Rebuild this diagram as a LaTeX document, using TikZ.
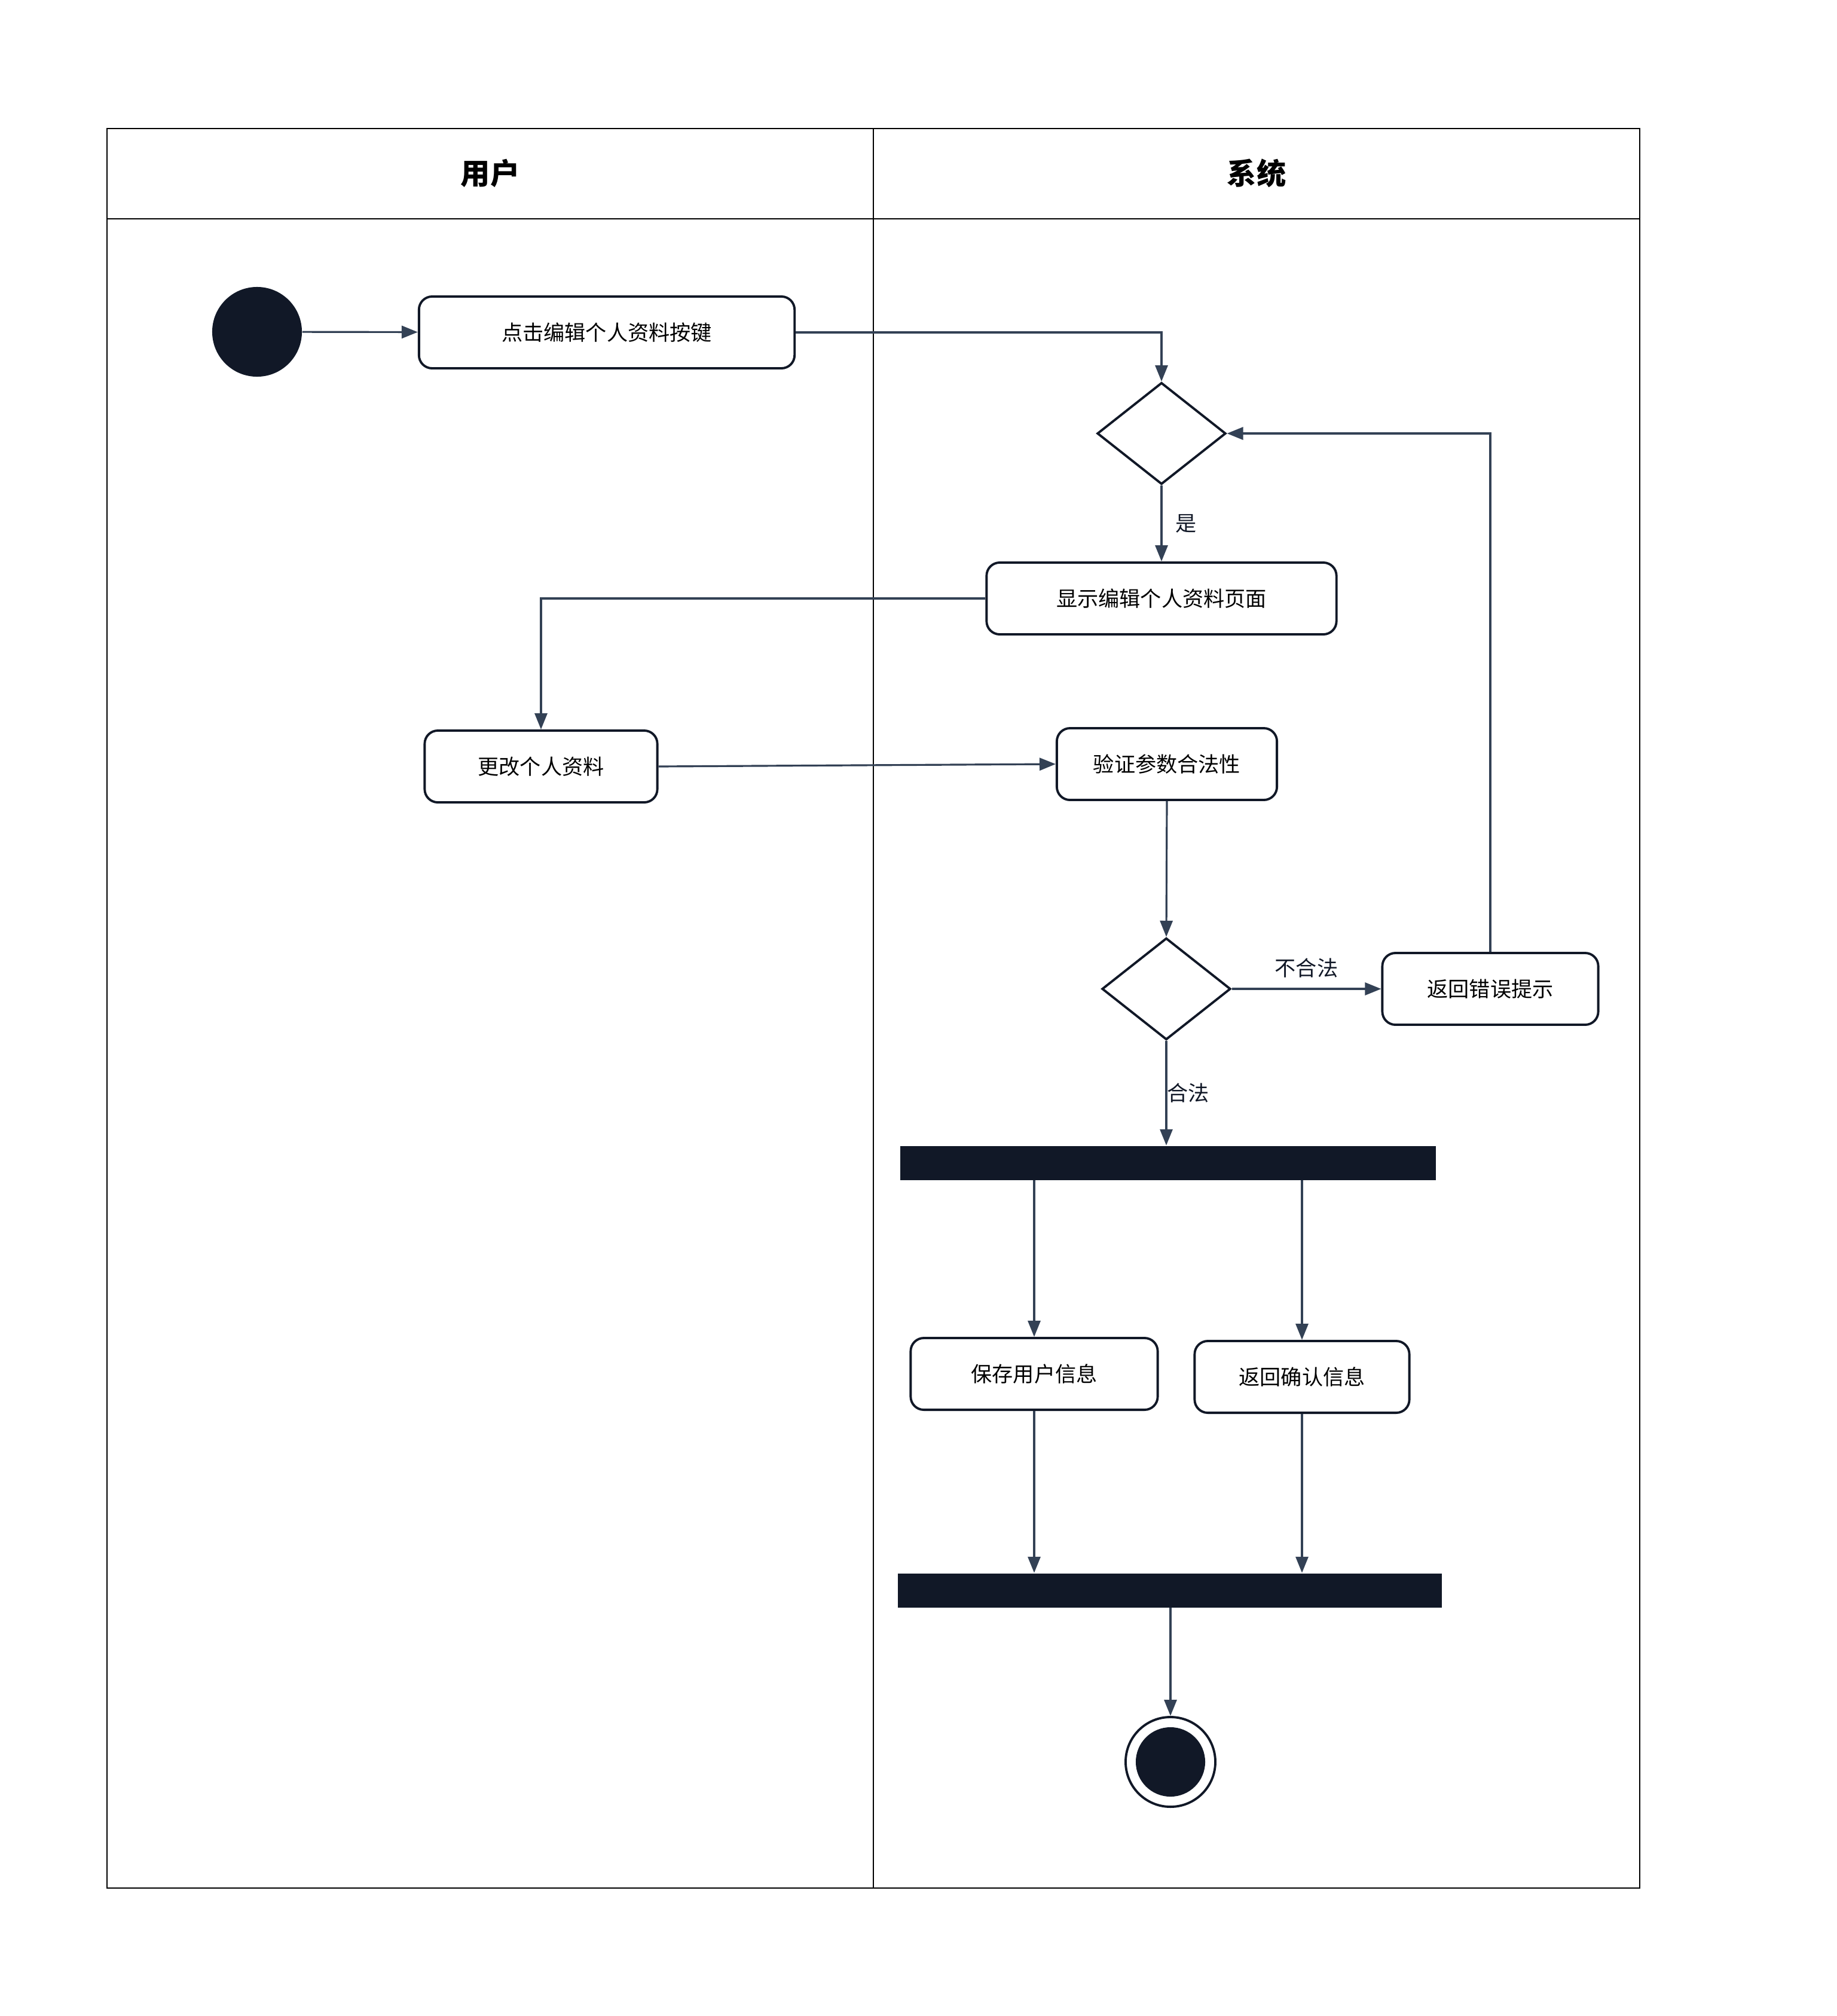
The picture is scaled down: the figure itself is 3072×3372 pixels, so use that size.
\documentclass[tikz,border=0pt]{standalone}
\usepackage{fontspec}
\newfontfamily\cjk{Noto Sans CJK SC}
\usepackage{tikz}
\usetikzlibrary{arrows.meta,positioning,shapes.geometric}
\definecolor{ink}{HTML}{111827}
\definecolor{slate}{HTML}{334155}

\begin{document}
\begin{tikzpicture}[
  x=0.01cm, y=-0.01cm,
  lane/.style={draw=black, line width=0.6pt},
  title/.style={font=\cjk\fontsize{14}{16}\selectfont\bfseries, text=black},
  action/.style={rectangle, draw=ink, line width=1.1pt, rounded corners=0.22cm,
                 fill=white, minimum width=#1, minimum height=1.2cm,
                 font=\cjk\fontsize{10}{12}\selectfont, inner sep=0pt},
  decision/.style={diamond, draw=ink, line width=1.1pt, fill=white,
                   minimum width=2.15cm, minimum height=1.7cm, inner sep=0pt},
  bar/.style={rectangle, fill=ink, minimum width=#1, minimum height=0.57cm, inner sep=0pt},
  startdot/.style={circle, fill=ink, minimum size=1.5cm, inner sep=0pt},
  finalring/.style={circle, draw=ink, line width=1.1pt, fill=white, minimum size=1.5cm, inner sep=0pt},
  finaldot/.style={circle, fill=ink, minimum size=1.16cm, inner sep=0pt},
  arrow/.style={-{Triangle[length=2.7mm,width=2.1mm]}, line width=0.9pt, color=slate},
  guard/.style={font=\cjk\fontsize{10}{12}\selectfont, text=ink}
]
  \useasboundingbox (0,0) rectangle (3072,3372);

  % Swimlanes
  \draw[lane] (179,215) rectangle (2743,3158);
  \draw[lane] (1461,215) -- (1461,3158);
  \draw[lane] (179,366) -- (2743,366);
  \node[title] (user) at (820,290) {用户};
  \node[title] (sys)  at (2102,290) {系统};

  \node[startdot] (start) at (430,555) {};
  \node[action=6.28cm] (click) at (1015,556) {点击编辑个人资料按键};
  \node[decision] (check) at (1943,725) {};
  \node[action=5.85cm] (show) at (1943,1001) {显示编辑个人资料页面};
  \node[action=3.89cm] (edit) at (905,1282) {更改个人资料};
  \node[action=3.68cm] (valid) at (1952,1278) {验证参数合法性};
  \node[decision] (legal) at (1951,1654) {};
  \node[action=3.61cm] (err) at (2493,1654) {返回错误提示};
  \node[bar=8.95cm] (fork) at (1954,1945) {};
  \node[action=4.13cm] (save) at (1730,2298) {保存用户信息};
  \node[action=3.59cm] (ack) at (2178,2303) {返回确认信息};
  \node[bar=9.10cm] (join) at (1957,2660) {};
  \node[finalring] (final) at (1958,2947) {};
  \node[finaldot] (finalin) at (final) {};

  % Arrows
  \draw[arrow] (start) -- (click);
  \draw[arrow] (click.east) -| (check.north);
  \draw[arrow] (check.south) -- node[right, guard, xshift=0.1cm]{是} (show.north);
  \draw[arrow] (show.west) -| (edit.north);
  \draw[arrow] (edit.east) -- (valid.west);
  \draw[arrow] (valid.south) -- (legal.north);
  \draw[arrow] (legal.east) -- node[above, guard, yshift=0.05cm]{不合法} (err.west);
  \draw[arrow] (err.north) |- (check.east);
  \draw[arrow] (legal.south) -- node[right, guard, inner sep=0pt]{合法} (fork.north -| legal.south);
  \draw[arrow] (save.north |- fork.south) -- (save.north);
  \draw[arrow] (ack.north |- fork.south) -- (ack.north);
  \draw[arrow] (save.south) -- (save.south |- join.north);
  \draw[arrow] (ack.south) -- (ack.south |- join.north);
  \draw[arrow] (join.south -| final.north) -- (final.north);
\end{tikzpicture}
\end{document}
